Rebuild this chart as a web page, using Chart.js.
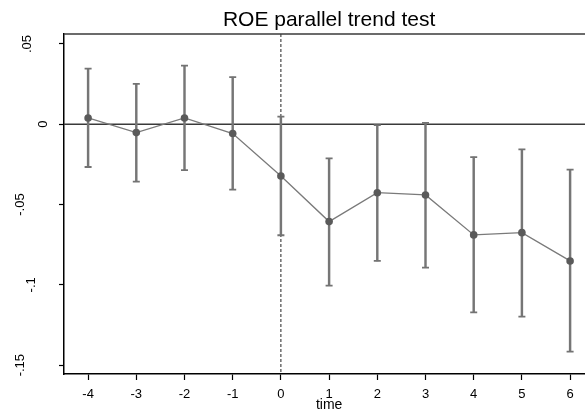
<!DOCTYPE html>
<html><head><meta charset="utf-8">
<style>html,body{margin:0;padding:0;overflow:hidden;background:#fff;width:585px;height:414px}
canvas{display:block}</style>
<script src="https://cdn.jsdelivr.net/npm/chart.js@4/dist/chart.umd.min.js"></script>
</head><body>
<canvas id="c" width="600" height="414" style="width:600px;height:414px"></canvas>
<script>
const timeValues   = [-4, -3, -2, -1, 0, 1, 2, 3, 4, 5, 6];
const coefficients = [0.0039, -0.0052, 0.0039, -0.0058, -0.0322, -0.0606, -0.0426, -0.0440, -0.0689, -0.0675, -0.0851];
const ciUpper      = [0.0346, 0.0251, 0.0365, 0.0294, 0.0047, -0.0212, -0.0006, 0.0008, -0.0205, -0.0156, -0.0283];
const ciLower      = [-0.0266, -0.0357, -0.0285, -0.0407, -0.0691, -0.1005, -0.0851, -0.0893, -0.1171, -0.1198, -0.1416];
const xTickValues  = [-4, -3, -2, -1, 0, 1, 2, 3, 4, 5, 6];
const yTickValues  = [-0.15, -0.1, -0.05, 0, 0.05];
const yTickLabels  = ['-.15', '-.1', '-.05', '0', '.05'];
const referenceY   = 0;
const referenceX   = 0;
const chartTitle   = 'ROE parallel trend test';
const xAxisTitle   = 'time';

const FONT = "'Liberation Sans', Arial, Helvetica, sans-serif";
Chart.defaults.font.family = FONT;
Chart.defaults.color = '#000';

const decor = {
  id: 'decor',
  beforeDatasetsDraw(chart) {
    const {ctx, chartArea: a, scales: {x, y}} = chart;
    ctx.save();
    const y0 = y.getPixelForValue(referenceY);
    ctx.strokeStyle = '#3a3a3a'; ctx.lineWidth = 1.4;
    ctx.beginPath(); ctx.moveTo(a.left, y0); ctx.lineTo(a.right, y0); ctx.stroke();
    const x0 = x.getPixelForValue(referenceX);
    ctx.setLineDash([3, 2]); ctx.lineWidth = 1; ctx.strokeStyle = '#222';
    ctx.beginPath(); ctx.moveTo(x0, a.top); ctx.lineTo(x0, a.bottom); ctx.stroke();
    ctx.restore();
  },
  afterDraw(chart) {
    const {ctx, chartArea: a, scales: {y}} = chart;
    ctx.save();
    ctx.strokeStyle = '#3a3a3a'; ctx.lineWidth = 1.4;
    ctx.beginPath(); ctx.moveTo(a.left, a.top); ctx.lineTo(a.right, a.top); ctx.stroke();
    ctx.fillStyle = '#000';
    ctx.font = '13px ' + FONT;
    ctx.textAlign = 'center'; ctx.textBaseline = 'middle';
    y.ticks.forEach((t) => {
      const idx = yTickValues.indexOf(t.value);
      const label = idx >= 0 ? yTickLabels[idx] : String(t.value);
      const w = ctx.measureText(label).width;
      const p = y.getPixelForValue(t.value);
      const cx = a.left - 9 - 1.55 * w;
      ctx.save();
      ctx.translate(cx, p);
      ctx.rotate(-Math.PI / 2);
      ctx.fillText(label, 0, 0);
      ctx.restore();
    });
    ctx.restore();
  }
};

new Chart(document.getElementById('c'), {
  type: 'line',
  data: {
    datasets: [
      {
        type: 'line',
        data: timeValues.map((t, i) => ({x: t, y: coefficients[i]})),
        borderColor: '#7a7a7a', borderWidth: 1.3,
        pointRadius: 3.8, pointBackgroundColor: '#5a5a5a', pointBorderWidth: 0,
        fill: false, tension: 0, order: 0
      },
      {
        type: 'scatter',
        data: timeValues.map((t, i) => ({x: t, y: ciUpper[i]})).concat(timeValues.map((t, i) => ({x: t, y: ciLower[i]}))),
        pointStyle: 'line', pointRadius: 3.5, pointBorderColor: '#737373', pointBorderWidth: 1.8,
        showLine: false, order: 1
      },
      {
        type: 'bar',
        data: timeValues.map((t, i) => ({x: t, y: [ciLower[i], ciUpper[i]]})),
        backgroundColor: '#767676', borderWidth: 0, barThickness: 1.8, order: 2
      }
    ]
  },
  options: {
    responsive: false, animation: false, devicePixelRatio: 1,
    layout: {padding: {left: 0, right: 3, top: 0, bottom: 0}},
    plugins: {
      legend: {display: false}, tooltip: {enabled: false},
      title: {display: true, text: chartTitle, fullSize: false, color: '#000',
              font: {size: 21, weight: 'normal'}, padding: {top: 7.8, bottom: 1}}
    },
    scales: {
      x: {
        type: 'linear', min: -4.5, max: 6.5, offset: false,
        afterBuildTicks: s => { s.ticks = xTickValues.map(v => ({value: v})); },
        afterFit: s => { s.height = 40; },
        ticks: {autoSkip: false, maxRotation: 0, font: {size: 13}, color: '#000', padding: 7,
                callback: v => String(v)},
        grid: {offset: false, drawOnChartArea: false, drawTicks: true, tickLength: 6, color: '#000', tickWidth: 1.2},
        border: {display: true, color: '#000', width: 1.5},
        title: {display: true, text: xAxisTitle, font: {size: 14}, color: '#000', padding: {top: 0, bottom: 0}}
      },
      y: {
        type: 'linear', min: -0.1555, max: 0.0562,
        afterBuildTicks: s => { s.ticks = yTickValues.map(v => ({value: v})); },
        afterFit: s => { s.width = 64; },
        ticks: {display: false},
        grid: {drawOnChartArea: false, drawTicks: true, tickLength: 5, color: '#000', tickWidth: 1.2},
        border: {display: true, color: '#000', width: 1.5}
      }
    }
  },
  plugins: [decor]
});
</script>
</body></html>
